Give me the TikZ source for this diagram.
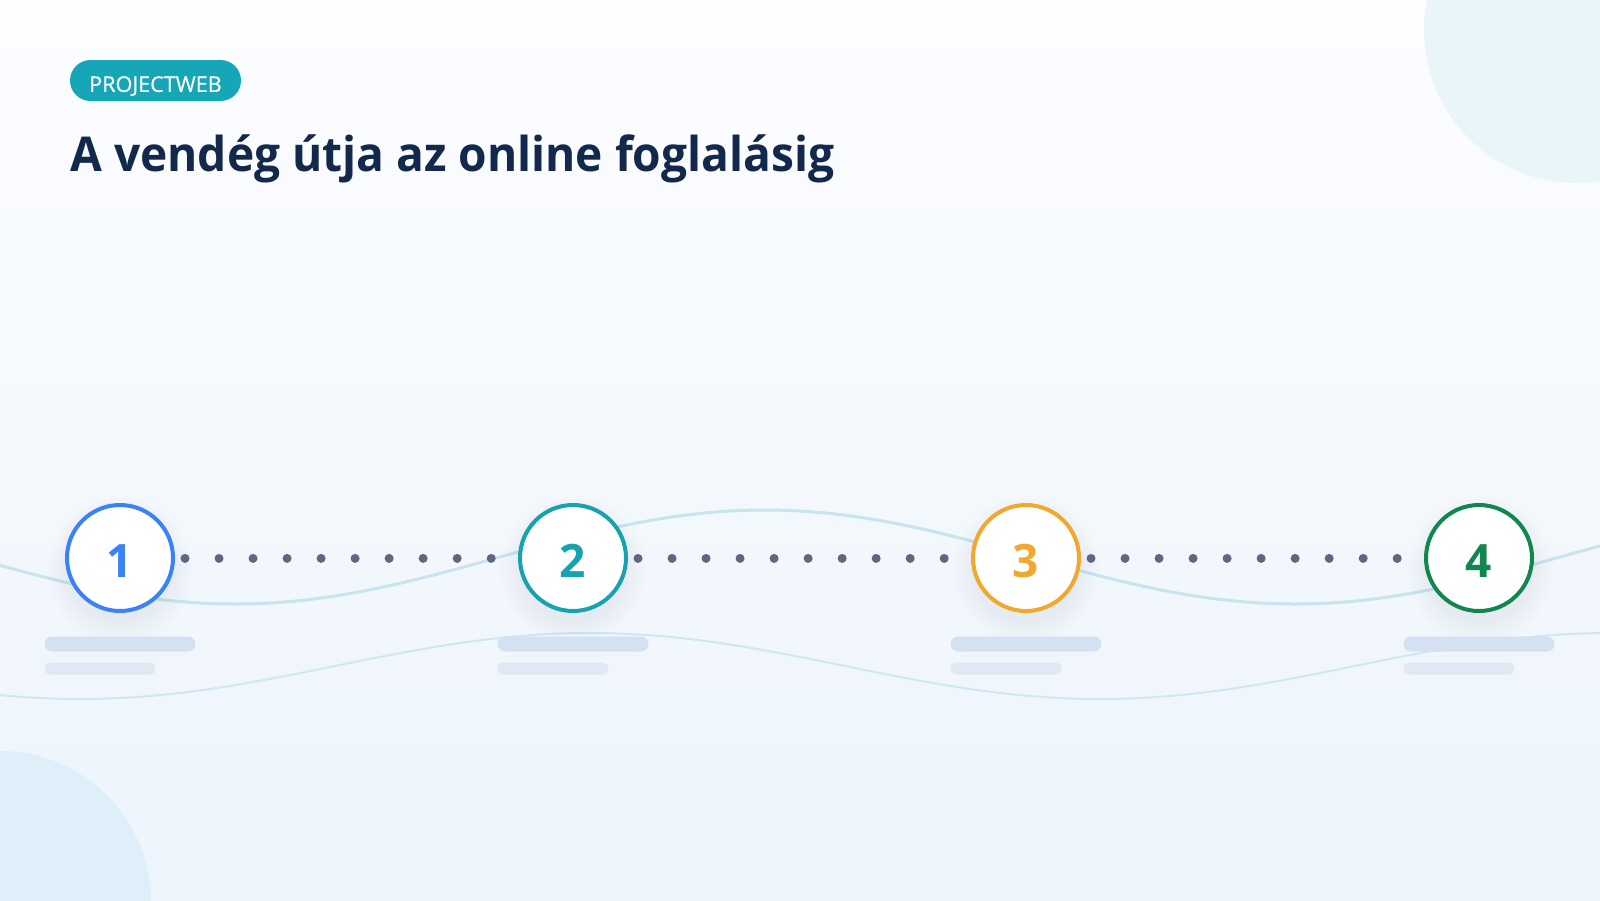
\documentclass[tikz,border=0pt]{standalone}
\usepackage{fontspec}
\setmainfont{Open Sans}
\newfontfamily\titlefont[FakeStretch=0.96]{Open Sans}
\newfontfamily\tagfont[FakeBold=0.6]{Open Sans}
\usetikzlibrary{positioning,calc}
\definecolor{bgtop}{HTML}{FCFDFF}
\definecolor{bgbot}{HTML}{EDF4FC}
\definecolor{blobtr}{HTML}{E9F5F8}
\definecolor{blobbl}{HTML}{DFEFFA}
\definecolor{tagteal}{HTML}{16A6B6}
\definecolor{titlenavy}{HTML}{13294B}
\definecolor{stepblue}{HTML}{3B82F6}
\definecolor{stepteal}{HTML}{17A2B0}
\definecolor{steporange}{HTML}{F0A92E}
\definecolor{stepgreen}{HTML}{11874F}
\definecolor{dotgray}{HTML}{5E6682}
\definecolor{waveline}{HTML}{C6E5EE}
\definecolor{barlong}{HTML}{D3E1F2}
\definecolor{barshort}{HTML}{E0E9F3}

\begin{document}
\begin{tikzpicture}
[x=0.5pt,y=-0.5pt,
tag/.style={fill=tagteal,text=white,rounded corners=10.25pt,minimum width=85.5pt,minimum height=20.5pt,inner sep=0pt,text height=11.4pt,text depth=0pt,font=\tagfont\fontsize{10.8}{12}\selectfont},
stepnode/.style={circle,draw=#1,line width=2pt,fill=white,text=#1,minimum size=53pt,inner sep=0pt,text height=19pt,text depth=0pt,font=\bfseries\fontsize{23}{24}\selectfont},
dotline/.style={draw=dotgray,line width=4.5pt,line cap=round,dash pattern=on 0.01pt off 17pt,shorten <=5pt,shorten >=6pt},
longbar/.style={fill=barlong,rounded corners=3.75pt,minimum width=75.5pt,minimum height=7.5pt,inner sep=0pt,outer sep=0pt},
shortbar/.style={fill=barshort,rounded corners=3pt,minimum width=55.5pt,minimum height=6pt,inner sep=0pt,outer sep=0pt},
wave/.style={draw=waveline,line width=#1}]
\useasboundingbox (0,0) rectangle (1600,900);
\fill[top color=bgtop,bottom color=bgbot] (0,0) rectangle (1600,900);
\begin{scope}
\clip (0,0) rectangle (1600,900);
\fill[blobtr] (1577,30) circle (153);
\fill[blobbl] (0,902) circle (151);
\draw[wave=1.5pt] plot[domain=0:1600,samples=90,smooth] (\x,{557+47*cos((\x-235)/1060*360)});
\draw[wave=1pt,opacity=0.8] plot[domain=0:1600,samples=90,smooth] (\x,{666-33*cos((\x-590)/1020*360)});
\end{scope}
\foreach \x in {120,573,1026,1480}
  \foreach \k in {1,...,12}
    \fill[black,opacity=0.005] (\x,570) circle (50+2*\k);
\node[tag] (tag) at (155.5,80.5) {PROJECTWEB};
\node[anchor=base west,text=titlenavy,inner sep=0pt,font=\titlefont\bfseries\fontsize{24}{28}\selectfont] (title) at (70,171) {A vendég útja az online foglalásig};
\node[stepnode=stepblue] (s1) at (120,558) {1};
\node[stepnode=stepteal,right=171.5pt of s1] (s2) {2};
\node[stepnode=steporange,right=171.5pt of s2] (s3) {3};
\node[stepnode=stepgreen,right=171.5pt of s3] (s4) {4};
\draw[dotline] (s1.east) -- (s2.west);
\draw[dotline] (s2.east) -- (s3.west);
\draw[dotline] (s3.east) -- (s4.west);
\foreach \s in {1,2,3,4}
{
  \node[longbar,below=11.75pt of s\s] (b\s) {};
  \node[shortbar,below right=5.5pt and 0pt of b\s.south west] (c\s) {};
}
\end{tikzpicture}
\end{document}
